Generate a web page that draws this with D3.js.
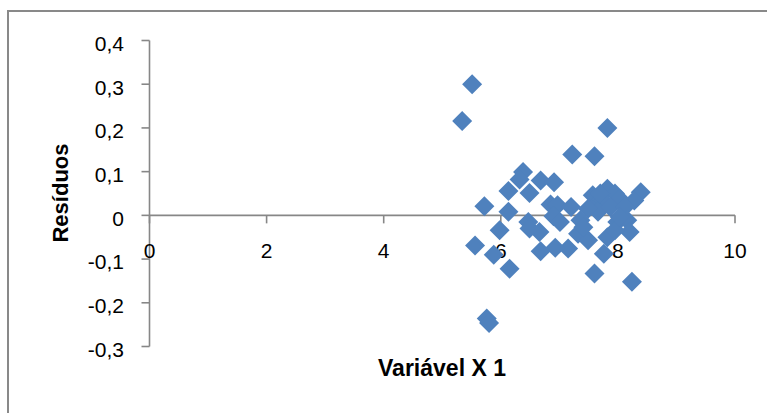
<!DOCTYPE html>
<html><head><meta charset="utf-8">
<script src="https://cdn.jsdelivr.net/npm/d3@7"></script>
<style>html,body{margin:0;padding:0;background:#fff;}svg{display:block;}</style>
</head><body>
<svg id="c" width="767" height="413"></svg>
<script>
const xValues = [5.51,5.34,7.82,7.22,7.60,6.38,6.32,6.68,6.91,6.13,6.49,5.72,6.13,6.85,6.97,7.20,6.90,7.01,8.39,8.28,7.82,7.57,7.95,8.03,7.62,7.74,7.66,7.87,7.49,8.12,7.36,7.32,7.49,7.41,7.99,8.16,8.20,7.82,7.95,7.76,7.60,8.24,7.15,6.93,6.68,6.66,6.47,6.49,5.98,5.56,5.88,6.15,5.76,5.80,8.03,7.70];
const residuals = [0.300,0.216,0.200,0.139,0.135,0.099,0.082,0.080,0.076,0.056,0.051,0.021,0.008,0.025,0.023,0.019,-0.002,-0.015,0.053,0.034,0.061,0.046,0.050,0.038,0.023,0.034,0.008,0.019,0.015,0.019,-0.011,-0.042,-0.057,-0.027,-0.015,-0.011,-0.038,-0.050,-0.034,-0.088,-0.133,-0.152,-0.076,-0.074,-0.082,-0.038,-0.015,-0.030,-0.034,-0.069,-0.090,-0.122,-0.236,-0.246,-0.004,0.050];
const xTicks = [0,2,4,6,8,10];
const yTicks = [-0.3,-0.2,-0.1,0,0.1,0.2,0.3,0.4];
const xTitle = "Variável X 1";
const yTitle = "Resíduos";

const svg = d3.select("#c");
const font = "'Liberation Sans', Arial, sans-serif";
const fmt = v => v === 0 ? "0" : d3.format(".1f")(v).replace(".", ",").replace("−","-");

svg.append("rect").attr("x",8).attr("y",11).attr("width",800).attr("height",450)
  .attr("fill","none").attr("stroke","#898989").attr("stroke-width",2);

const x = d3.scaleLinear().domain([0,10]).range([149.5,735]);
const y = d3.scaleLinear().domain([-0.3,0.4]).range([346.5,40.5]);
const axisColor = "#878787";

// y axis
const gy = svg.append("g");
gy.append("line").attr("x1",x(0)).attr("x2",x(0)).attr("y1",y(0.4)).attr("y2",y(-0.3))
  .attr("stroke",axisColor).attr("stroke-width",1.6);
gy.selectAll("line.t").data(yTicks).join("line").attr("class","t")
  .attr("x1",x(0)-8).attr("x2",x(0)).attr("y1",d=>y(d)).attr("y2",d=>y(d))
  .attr("stroke",axisColor).attr("stroke-width",1.6);
gy.selectAll("text").data(yTicks).join("text")
  .attr("x",124).attr("y",d=>y(d)+10.3).attr("text-anchor","end")
  .attr("font-family",font).attr("font-size",21).attr("fill","#000")
  .text(fmt);

// x axis at y=0
const gx = svg.append("g");
gx.append("line").attr("x1",x(0)).attr("x2",x(10)).attr("y1",y(0)).attr("y2",y(0))
  .attr("stroke",axisColor).attr("stroke-width",1.6);
gx.selectAll("line.t").data(xTicks).join("line").attr("class","t")
  .attr("x1",d=>x(d)).attr("x2",d=>x(d)).attr("y1",y(0)).attr("y2",y(0)+8)
  .attr("stroke",axisColor).attr("stroke-width",1.6);
gx.selectAll("text").data(xTicks).join("text")
  .attr("x",d=>x(d)).attr("y",y(0)+43).attr("text-anchor","middle")
  .attr("font-family",font).attr("font-size",21).attr("fill","#000")
  .text(d=>d);

// points
const diamond = "M0,-10L10,0L0,10L-10,0Z";
svg.append("g").selectAll("path").data(xValues.map((v,i)=>[v,residuals[i]])).join("path")
  .attr("d",diamond).attr("transform",d=>`translate(${x(d[0])},${y(d[1])})`)
  .attr("fill","#4F81BD");

// titles
svg.append("text").attr("x",442).attr("y",376).attr("text-anchor","middle")
  .attr("font-family",font).attr("font-weight","bold").attr("font-size",23).text(xTitle);
svg.append("text").attr("transform","translate(68,193) rotate(-90)").attr("text-anchor","middle")
  .attr("font-family",font).attr("font-weight","bold").attr("font-size",22).text(yTitle);
</script>
</body></html>
